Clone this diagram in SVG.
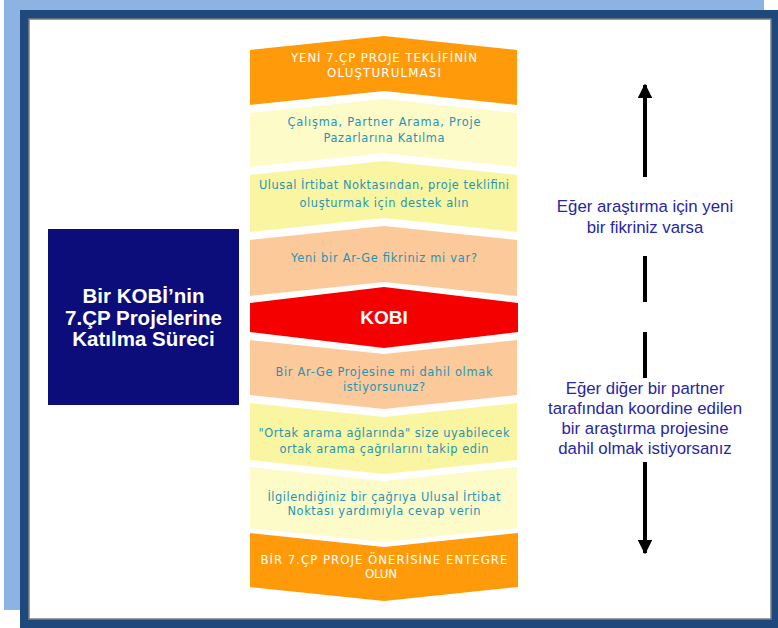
<svg xmlns="http://www.w3.org/2000/svg" width="778" height="628" viewBox="0 0 778 628">
<style>
.ct{font-family:"DejaVu Sans","Liberation Sans",sans-serif;font-size:11.4px;fill:#1F95B5;text-anchor:middle}
.wt{font-family:"DejaVu Sans","Liberation Sans",sans-serif;font-size:11.8px;fill:#FFFFFF;text-anchor:middle}
.rt{font-family:"Liberation Sans",Arial,sans-serif;font-size:16.8px;fill:#2626A6;text-anchor:middle}
.bt{font-family:"Liberation Sans",Arial,sans-serif;font-size:20.5px;font-weight:bold;fill:#FFFFFF;text-anchor:middle}
.orange{fill:#FF9A0A}
.lyel{fill:#FDFBC8}
.yel{fill:#FAF5A0}
.peach{fill:#FCC99A}
.red{fill:#F50000}
.seg{stroke:#000;stroke-width:4;fill:none}
</style>
<defs>
<marker id="ah" viewBox="0 0 10 10" refX="9" refY="5" markerWidth="3.6" markerHeight="3.6" orient="auto">
<path d="M0,0 L10,5 L0,10 z" fill="#000"/>
</marker>
</defs>
<g id="frame">
<rect x="4" y="0" width="760" height="610" fill="#8DB3E2"/>
<rect x="20" y="10" width="758" height="618" fill="#1F497D"/>
<rect x="29" y="19" width="742" height="600" fill="#FFFFFF" stroke="#7F7F7F" stroke-width="1.5"/>
</g>
<g id="title">
<rect x="48" y="229" width="191" height="176" fill="#0C0C7B"/>
<text class="bt" x="143.5" y="303">Bir KOBİ’nin</text>
<text class="bt" x="143.5" y="325">7.ÇP Projelerine</text>
<text class="bt" x="143.5" y="346">Katılma Süreci</text>
</g>
<g id="s1">
<polygon class="orange" points="250,50 384,36 517,50 517,105 384,91 250,105"/>
<text class="wt" x="384" y="62" textLength="186" lengthAdjust="spacing">YENİ 7.ÇP PROJE TEKLİFİNİN</text>
<text class="wt" x="384" y="77" textLength="114" lengthAdjust="spacing">OLUŞTURULMASI</text>
</g>
<g id="s2">
<polygon class="lyel" points="250,113 384,99 517,113 517,167 384,153 250,167"/>
<text class="ct" x="384" y="126" textLength="193" lengthAdjust="spacing">Çalışma, Partner Arama, Proje</text>
<text class="ct" x="384" y="142" textLength="121" lengthAdjust="spacing">Pazarlarına Katılma</text>
</g>
<g id="s3">
<polygon class="yel" points="250,175 384,161 517,175 517,232 384,218 250,232"/>
<text class="ct" x="384" y="189" textLength="250" lengthAdjust="spacing">Ulusal İrtibat Noktasından, proje teklifini</text>
<text class="ct" x="384" y="207" textLength="169" lengthAdjust="spacing">oluşturmak için destek alın</text>
</g>
<g id="s4">
<polygon class="peach" points="250,240 384,226 517,240 517,296 384,282 250,296"/>
<text class="ct" x="384" y="262" textLength="186" lengthAdjust="spacing">Yeni bir Ar-Ge fikriniz mi var?</text>
</g>
<g id="kobi">
<polygon class="red" points="250,303 384,287 518,303 518,332 384,348 250,332"/>
<text x="384" y="324" text-anchor="middle" font-family="Liberation Sans,Arial,sans-serif" font-size="19" font-weight="bold" fill="#FFFFFF">KOBI</text>
</g>
<g id="s6">
<polygon class="peach" points="250,340 384,354 517,340 517,395 384,409 250,395"/>
<text class="ct" x="384" y="376" textLength="217" lengthAdjust="spacing">Bir Ar-Ge Projesine mi dahil olmak</text>
<text class="ct" x="384" y="391" textLength="82" lengthAdjust="spacing">istiyorsunuz?</text>
</g>
<g id="s7">
<polygon class="yel" points="250,403 384,417 517,403 517,460 384,474 250,460"/>
<text class="ct" x="384" y="437" textLength="251" lengthAdjust="spacing">"Ortak arama ağlarında" size uyabilecek</text>
<text class="ct" x="384" y="453" textLength="209" lengthAdjust="spacing">ortak arama çağrılarını takip edin</text>
</g>
<g id="s8">
<polygon class="lyel" points="250,467 384,481 517,467 517,528 384,542 250,528"/>
<text class="ct" x="384" y="501" textLength="233" lengthAdjust="spacing">İlgilendiğiniz bir çağrıya Ulusal İrtibat</text>
<text class="ct" x="384" y="515" textLength="193" lengthAdjust="spacing">Noktası yardımıyla cevap verin</text>
</g>
<g id="s9">
<polygon class="orange" points="250,533 384,547 518,533 518,587 384,601 250,587"/>
<text class="wt" x="384" y="564" textLength="247" lengthAdjust="spacing">BİR 7.ÇP PROJE ÖNERİSİNE ENTEGRE</text>
<text class="wt" x="381" y="578" textLength="32" lengthAdjust="spacing">OLUN</text>
</g>
<g id="connectors">
<line class="seg" x1="645" y1="177" x2="645" y2="85" marker-end="url(#ah)"/>
<line class="seg" x1="645" y1="256" x2="645" y2="302"/>
<line class="seg" x1="645" y1="332" x2="645" y2="378"/>
<line class="seg" x1="645" y1="462" x2="645" y2="553" marker-end="url(#ah)"/>
</g>
<g id="labels">
<text class="rt" x="645" y="212">Eğer araştırma için yeni</text>
<text class="rt" x="645" y="233">bir fikriniz varsa</text>
<text class="rt" x="645" y="394">Eğer diğer bir partner</text>
<text class="rt" x="645" y="414">tarafından koordine edilen</text>
<text class="rt" x="645" y="434">bir araştırma projesine</text>
<text class="rt" x="645" y="454">dahil olmak istiyorsanız</text>
</g>
</svg>
